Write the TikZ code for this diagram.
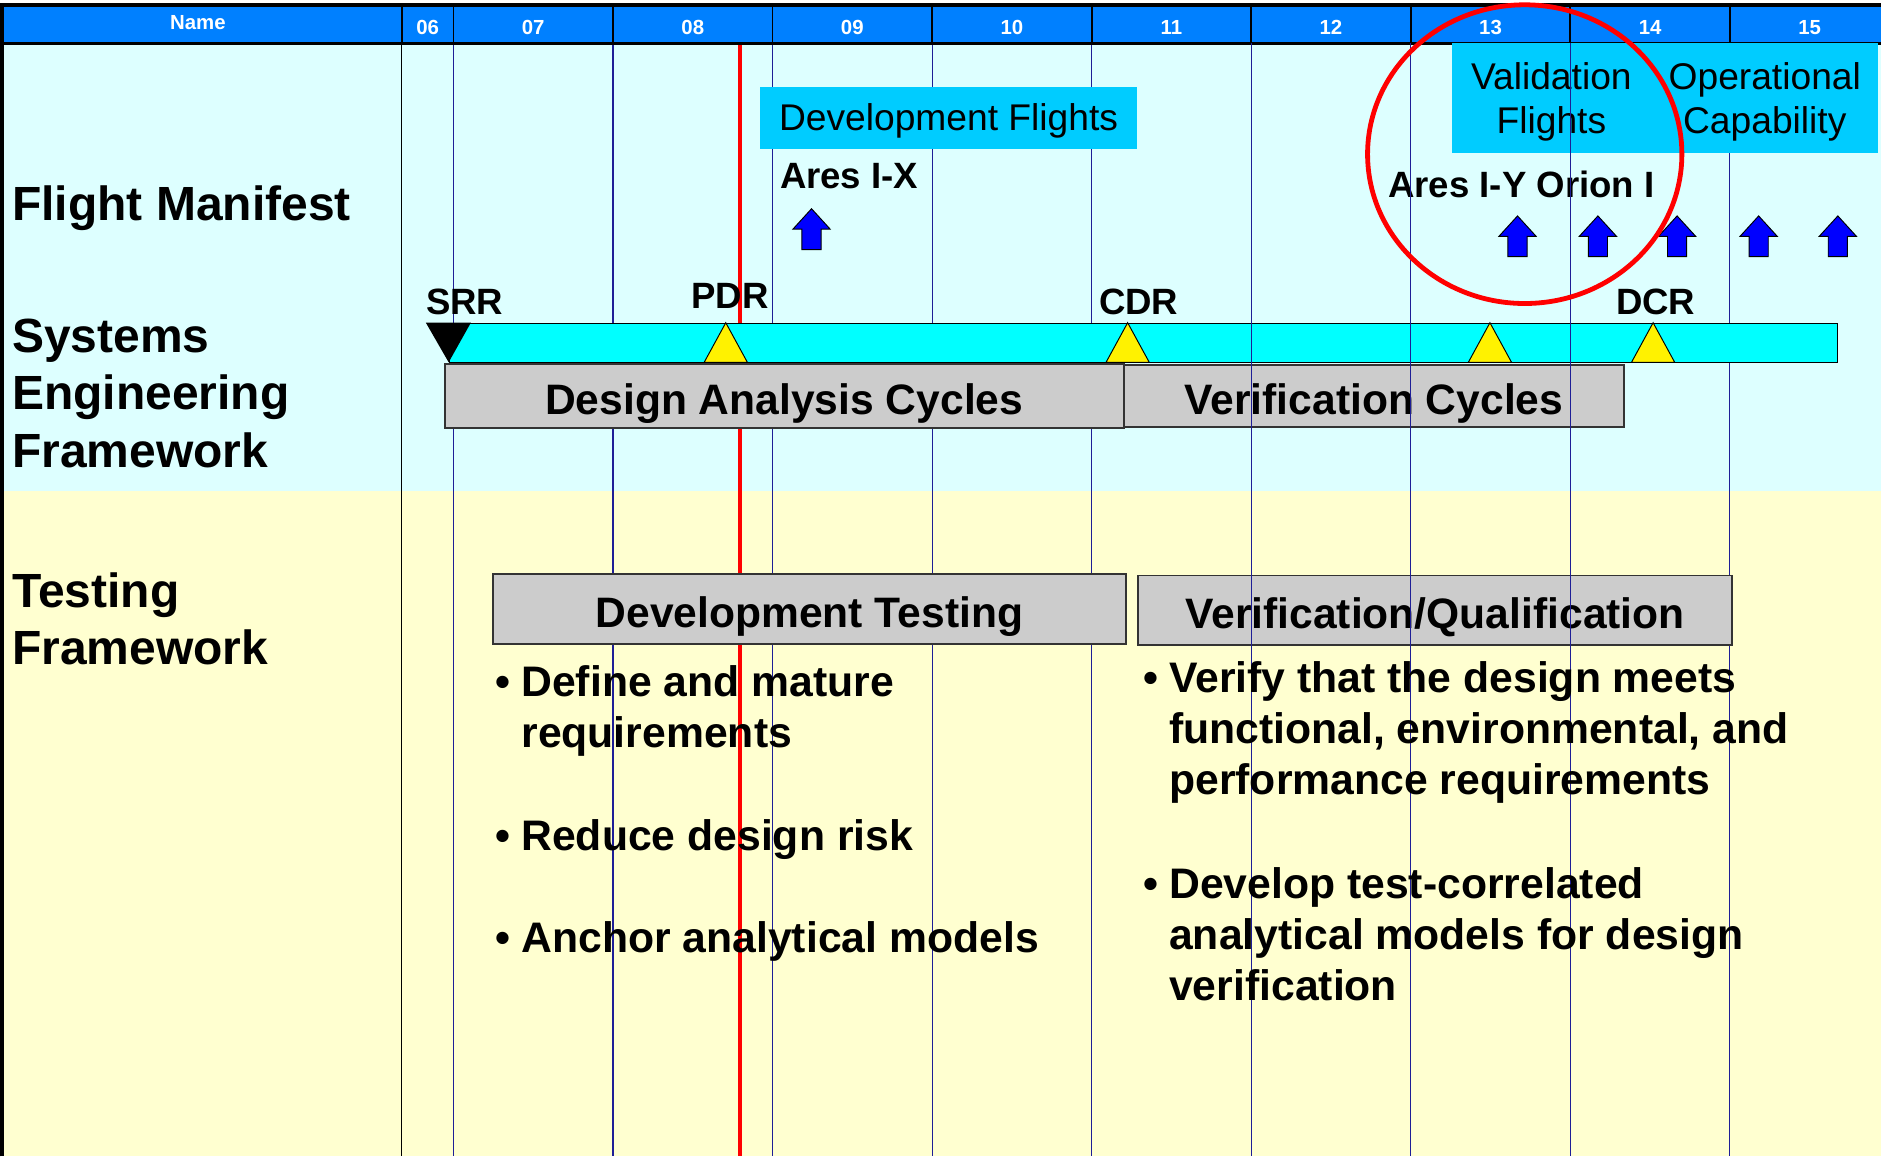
\documentclass[tikz,border=0pt]{standalone}
\usepackage{fontspec}
\setmainfont{Liberation Sans}
\usetikzlibrary{positioning}

\definecolor{headerblue}{RGB}{0,128,255}
\definecolor{skyband}{RGB}{221,255,255}
\definecolor{sandband}{RGB}{255,255,208}
\definecolor{barcyan}{RGB}{0,255,255}
\definecolor{flightblue}{RGB}{0,204,255}
\definecolor{boxgray}{RGB}{204,204,204}
\definecolor{gridblue}{RGB}{30,30,150}
\definecolor{arrowblue}{RGB}{0,0,255}

\newcommand{\itemtext}[1]{\begin{tabular}[t]{@{}l@{\hspace{9pt}}l@{}}\textbullet & #1\end{tabular}}

\tikzset{%
  headlabel/.style = {font=\fontsize{17}{20}\selectfont\bfseries, text=white,
    anchor=base, inner sep=0},
  rowlabel/.style = {font=\fontsize{40}{48}\selectfont\bfseries, align=left,
    anchor=base west, inner sep=0},
  gridline/.style = {draw=gridblue, line width=1pt},
  flightbox/.style = {fill=flightblue, inner sep=0, align=center,
    font=\fontsize{31}{36}\selectfont},
  mslabel/.style = {font=\fontsize{30.5}{36}\selectfont\bfseries,
    anchor=base west, inner sep=0},
  cyclebox/.style = {draw=black!80, line width=1.5pt, fill=boxgray, inner sep=0,
    anchor=north west, text height=31, text depth=0,
    font=\fontsize{35.5}{42}\selectfont\bfseries},
  bulletitem/.style = {font=\fontsize{35.6}{42.5}\selectfont\bfseries,
    anchor=base west, inner sep=0},
  flightarrow/.pic = {
    \draw[fill=arrowblue, line width=0.8pt] (-8,0) -- (-8,-17) -- (-15.5,-17)
      -- (0,-34) -- (15.5,-17) -- (8,-17) -- (8,0) -- cycle;
  },
  milestone/.pic = {
    \draw[fill=yellow, line width=0.8pt] (-18,0) -- (0,-33) -- (18,0) -- cycle;
  }
}

\begin{document}
\begin{tikzpicture}[x=1pt, y=-1pt]
  \useasboundingbox (0,0) rectangle (1568,964);

  % bands and header
  \fill[skyband] (0,36) rectangle (1568,409);
  \fill[sandband] (0,409) rectangle (1568,964);
  \fill[headerblue] (0,4) rectangle (1568,36);

  % year columns (behind the bars)
  \foreach \x in {378,511,644,777,910,1442}
    \draw[gridline] (\x,36) -- (\x,964);
  \draw[line width=1pt] (335,36) -- (335,964);
  \draw[red, line width=3pt] (617,36) -- (617,964);

  \foreach \x in {335,378,511,644,777,910,1043,1176,1309,1442}
    \draw[line width=1.5pt] (\x,4) -- (\x,36);
  \draw[line width=3pt] (1.5,964) -- (1.5,4) -- (1568,4);
  \draw[line width=2.5pt] (0,36) -- (1568,36);

  \node[headlabel] (namehead) at (165,24.4) {Name};
  \node[headlabel] (y06) at (356.5,29) {06};
  \foreach \yr [count=\i from 0] in {07,08,09,10,11,12,13,14,15}
    \node[headlabel] (y\yr) at ({444.5+133*\i},29) {\yr};

  % row titles (base = last line)
  \node[rowlabel] (manifest) at (10,184) {Flight Manifest};
  \node[rowlabel] (seframe) at (10,389.5) {Systems\\Engineering\\Framework};
  \node[rowlabel] (testframe) at (10,554) {Testing\\Framework};

  % flight manifest
  \node[flightbox, minimum width=315, minimum height=52, anchor=north west,
    text height=21, text depth=0] (devflights) at (633,72) {Development Flights};
  \node[flightbox, minimum width=166, minimum height=91, anchor=north west,
    text depth=0] (valflights) at (1210,36) {Validation\\Flights};
  \node[flightbox, minimum width=189, minimum height=91, text depth=0,
    right=0pt of valflights] (opcap) {Operational\\Capability};

  \node[mslabel] (aresix) at (650,157) {Ares I-X};
  \node[mslabel] (aresiy) at (1157,165) {Ares I-Y Orion I};
  \pic (arrix) at (676.5,208) {flightarrow};
  \foreach \x [count=\i] in {1265,1332,1398,1466,1532}
    \pic (arr\i) at (\x,214) {flightarrow};

  % systems engineering bar
  \node[draw, fill=barcyan, line width=1pt, inner sep=0, minimum width=1157,
    minimum height=33, anchor=north west] (sebar) at (374,269) {};
  \fill (355,269) -- (392.5,269) -- (374,302) -- cycle;
  \foreach \x in {605,940,1242,1378}
    \pic at (\x,302) {milestone};
  \node[mslabel] (srr) at (355,262) {SRR};
  \node[mslabel] (pdr) at (576,257) {PDR};
  \node[mslabel] (cdr) at (916,262) {CDR};
  \node[mslabel] (dcr) at (1347,262) {DCR};

  \node[cyclebox, minimum width=566, minimum height=53] (dac) at (370,303)
    {Design Analysis Cycles};
  \node[cyclebox, minimum width=417, minimum height=52] (vcyc) at (936,303.5)
    {Verification Cycles};
  \node[cyclebox, minimum width=528, minimum height=58] (devtest) at (410,478)
    {Development Testing};
  \node[cyclebox, minimum width=495, minimum height=58] (verqual) at (948,479)
    {Verification/Qualification};

  % year columns (over the bars)
  \foreach \x in {1043,1176,1309}
    \draw[gridline] (\x,36) -- (\x,964);

  % testing framework
  \node[bulletitem] (dt1) at (413,580.5) {\itemtext{Define and mature\\ & requirements}};
  \node[bulletitem] (dt2) at (413,708.9) {\itemtext{Reduce design risk}};
  \node[bulletitem] (dt3) at (413,793.9) {\itemtext{Anchor analytical models}};
  \node[bulletitem] (vq1) at (953,577) {\itemtext{Verify that the design meets\\
    & functional, environmental, and\\ & performance requirements}};
  \node[bulletitem] (vq2) at (953,748.6) {\itemtext{Develop test-correlated\\
    & analytical models for design\\ & verification}};

  \draw[red, line width=4pt] (1271,128.5) ellipse [x radius=131, y radius=124.5];
\end{tikzpicture}
\end{document}
